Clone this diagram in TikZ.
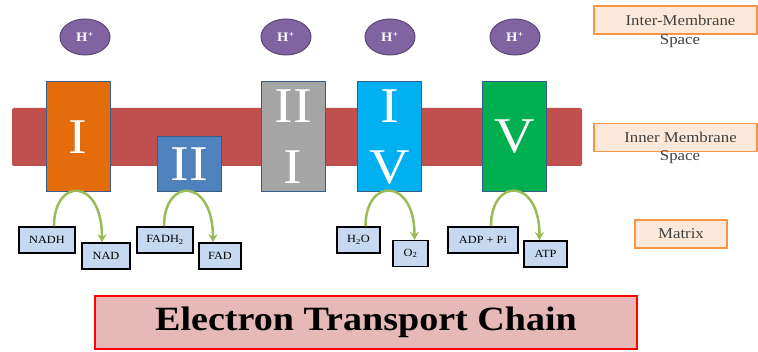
\documentclass[tikz,border=0pt]{standalone}
\usepackage{fontspec}
\setmainfont[FakeStretch=1.12]{Liberation Serif}
\usepackage{tikz}
\usetikzlibrary{shapes.geometric,arrows.meta}
\usetikzlibrary{positioning}
\definecolor{memb}{HTML}{C0504D}
\definecolor{hpur}{HTML}{8064A2}
\definecolor{hbrd}{HTML}{5C4776}
\definecolor{cone}{HTML}{E46C0A}
\definecolor{ctwo}{HTML}{4F81BD}
\definecolor{cthr}{HTML}{A5A5A5}
\definecolor{cfou}{HTML}{00B0F0}
\definecolor{cfiv}{HTML}{00B050}
\definecolor{cbrd}{HTML}{385D8A}
\definecolor{mblu}{HTML}{C6D9F1}
\definecolor{agrn}{HTML}{9BBB59}
\definecolor{lfil}{HTML}{FDE9D9}
\definecolor{lbrd}{HTML}{F79646}
\definecolor{tfil}{HTML}{E6B9B8}
\definecolor{tgry}{HTML}{404040}
\begin{document}
\begin{tikzpicture}[x=1pt,y=-1pt,
	hion/.style={draw=hbrd,line width=1pt,ellipse,fill=hpur,text=white,
		minimum width=50pt,minimum height=36pt,inner sep=0pt,
		font=\fontsize{13}{15}\selectfont\bfseries},
	cplx/.style={draw=cbrd,line width=1pt,fill=#1,text=white,align=center,
		minimum width=64pt,inner sep=0pt,font=\fontsize{50}{61}\selectfont},
	mol/.style={draw=black,line width=1.5pt,fill=mblu,minimum height=26pt,
		inner sep=0pt,font=\fontsize{11}{13}\selectfont},
	lbl/.style={draw=lbrd,line width=1.5pt,fill=lfil,text=tgry,minimum height=28pt,
		inner sep=0pt,font=\fontsize{15}{18}\selectfont},
	spc/.style={text=tgry,inner sep=0pt,font=\fontsize{15}{18}\selectfont},
	arw/.style={draw=agrn,line width=2.5pt,-{Stealth[length=8pt,width=9pt,inset=2.5pt]}}]
	\useasboundingbox (0,0) rectangle (758,352);
	% membrane
	\node [fill=memb,rounded corners=2pt,minimum width=570pt,minimum height=58pt,
		inner sep=0pt] (mem) at (297,137) {};
	% protons
	\node [hion] (h1) at (85,37) {H\textsuperscript{+}};
	\node [hion] (h2) at (286,37) {H\textsuperscript{+}};
	\node [hion] (h3) at (390,37) {H\textsuperscript{+}};
	\node [hion] (h4) at (515,37) {H\textsuperscript{+}};
	% complexes
	\node [cplx=cone, minimum height=110pt] (c1) at (78,137) {I};
	\node [cplx=ctwo, minimum height=55pt] (c2) at (189,164.5) {II};
	\node [cplx=cthr, minimum height=110pt] (c3) at (293,137) {II\\I};
	\node [cplx=cfou, minimum height=110pt] (c4) at (389.5,137) {I\\V};
	\node [cplx=cfiv, minimum height=110pt] (c5) at (514.5,137) {V};
	% molecules
	\node [mol, minimum width=56pt] (m1) at (47,240) {NADH};
	\node [mol, minimum width=48pt] (m2) at (106,256) {NAD};
	\node [mol, minimum width=56pt] (m3) at (165,240) {FADH\textsubscript{2}};
	\node [mol, minimum width=42pt] (m4) at (220,256) {FAD};
	\node [mol, minimum width=43pt] (m5) at (358.5,240) {H\textsubscript{2}O};
	\node [mol, minimum width=35pt] (m6) at (410.5,253.5) {O\textsubscript{2}};
	\node [mol, minimum width=70pt] (m7) at (483,240) {ADP + Pi};
	\node [mol, minimum width=43pt] (m8) at (545.5,254) {ATP};
	\draw [arw] ([xshift=7pt]m1.north) .. controls +(0,-49) and +(0,-65) .. ([xshift=-4pt]m2.north);
	\draw [arw] ([xshift=-1pt]m3.north) .. controls +(0,-49) and +(0,-65) .. ([xshift=-7pt]m4.north);
	\draw [arw] ([xshift=7pt]m5.north) .. controls +(0,-49) and +(0,-62.5) .. ([xshift=4pt]m6.north);
	\draw [arw] ([xshift=8pt]m7.north) .. controls +(0,-49) and +(0,-63) .. ([xshift=-6pt]m8.north);
	% labels
	\node [lbl, minimum width=163pt] (l1) at (675.5,20) {\hspace*{10pt}Inter-Membrane};
	\node [spc] (s1) at (680,41) {Space};
	\node [lbl, minimum width=163pt] (l2) at (675.5,137.5) {\hspace*{10pt}Inner Membrane};
	\node [spc] (s2) at (680,157) {Space};
	\node [lbl, minimum width=92pt] (l3) at (681,234) {Matrix};
	% title
	\node [draw=red,line width=1.5pt,fill=tfil,minimum width=542pt,minimum height=53pt,
		inner sep=0pt,font=\fontsize{34}{40}\selectfont\bfseries] (ttl) at (366,322.5)
		{Electron Transport Chain};
\end{tikzpicture}
\end{document}
